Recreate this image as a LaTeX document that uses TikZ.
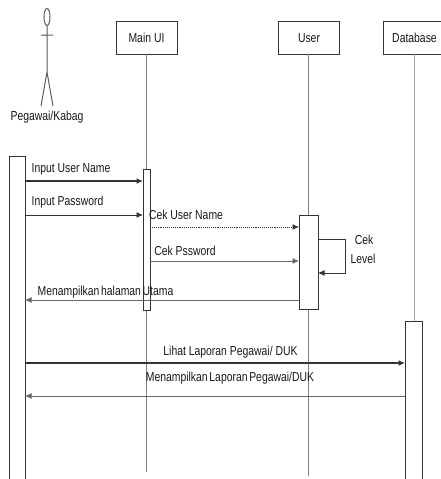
\documentclass[tikz,border=0pt]{standalone}
\usepackage{fontspec}
\setmainfont[FakeStretch=0.8]{Liberation Sans}
\usetikzlibrary{arrows.meta}
\definecolor{ink}{gray}{0.2}
\definecolor{life}{gray}{0.5}
\tikzset{
  x=1pt,y=-1pt,
  every node/.style={inner sep=0pt,outer sep=0pt,font=\fontsize{13}{15}\selectfont,text=black!90},
  headbox/.style={draw=ink,line width=.9pt,fill=white,minimum height=33pt,anchor=north west},
  activation/.style={draw=ink,line width=.9pt,fill=white,anchor=north west},
  lifeline/.style={draw=life,line width=.9pt},
  msg/.style={draw=ink,line width=.9pt,-{Latex[length=6.5pt,width=6pt]}},
  msgbold/.style={msg,line width=1.4pt},
  msgdot/.style={msg,densely dotted,line width=1pt},
  actorline/.style={draw=ink!80,line width=1pt},
  tightwords/.style={execute at begin node={\spaceskip=1.7pt\relax}}
}
\begin{document}
\begin{tikzpicture}
\useasboundingbox (0,0) rectangle (440,479);
\fill[white] (0,0) rectangle (440,479);
% heads
\node[headbox,minimum width=61pt] (mainui) at (116,21) {};
\node at (146.5,38) (mainuit) {Main UI};
\node[headbox,minimum width=61pt] (user) at (278,21) {};
\node at (309,38) (usert) {User};
\node[headbox,minimum width=70pt] (db) at (383,21) {};
\node at (414.5,38) (dbt) {Database};
% lifeline ends
\coordinate (mainend) at (146,472);
\coordinate (userend) at (308,476);
\coordinate (dbend) at (414,321);
\draw[lifeline] (146,54) -- (mainend);
\draw[lifeline] (308,54) -- (userend);
\draw[lifeline,draw=life!70] (414,54) -- (dbend);
% actor
\draw[actorline] (47,17) ellipse (3 and 8.5);
\coordinate (neck) at (47,26);
\coordinate (hip) at (47,72);
\coordinate (armL) at (41,35);
\coordinate (armR) at (53,35);
\coordinate (legL) at (41,106);
\coordinate (legR) at (53,106);
\draw[actorline] (neck) -- (hip) (armL) -- (armR) (legL) -- (hip) -- (legR);
\node (actorlabel) at (47,117.5) {Pegawai/Kabag};
% activations
\node[activation,minimum width=16pt,minimum height=330pt] (actA) at (9,156) {};
\node[activation,minimum width=7pt,minimum height=141pt] (actM) at (143,169) {};
\node[activation,minimum width=19pt,minimum height=94pt] (actU) at (299,215) {};
\node[activation,minimum width=17pt,minimum height=165pt] (actD) at (405,321) {};
% messages
\draw[msgbold] (actA.east |- 0,181) -- (actM.west |- 0,181);
\node (m1) at (71,169) {Input User Name};
\draw[msg] (actA.east |- 0,215) -- (actM.west |- 0,215);
\node (m2) at (67.5,202) {Input Password};
\draw[msgdot] (actM.east |- 0,227) -- (actU.west |- 0,227);
\node (m3) at (186,215) {Cek User Name};
\draw[msg,draw=life!80!black] (actM.east |- 0,261) -- (actU.west |- 0,261);
\node (m4) at (185,251) {Cek Pssword};
\draw[msg,draw=life!80!black] (actU.west |- 0,300) -- (actA.east |- 0,300);
\node[tightwords] (m5) at (105.5,292) {Menampilkan halaman Utama};
\draw[msg] (actU.east |- 0,239) -- (345,239) -- (345,273) -- (actU.east |- 0,273);
\node (m6) at (364,240) {Cek};
\node (m7) at (363,259) {Level};
\draw[msgbold] (actA.east |- 0,363) -- (actD.west |- 0,363);
\node (m8) at (230.5,352) {Lihat Laporan Pegawai/ DUK};
\draw[msg,draw=life!80!black] (actD.west |- 0,396) -- (actA.east |- 0,396);
\node[tightwords] (m9) at (230,378) {Menampilkan Laporan Pegawai/DUK};
\end{tikzpicture}
\end{document}
